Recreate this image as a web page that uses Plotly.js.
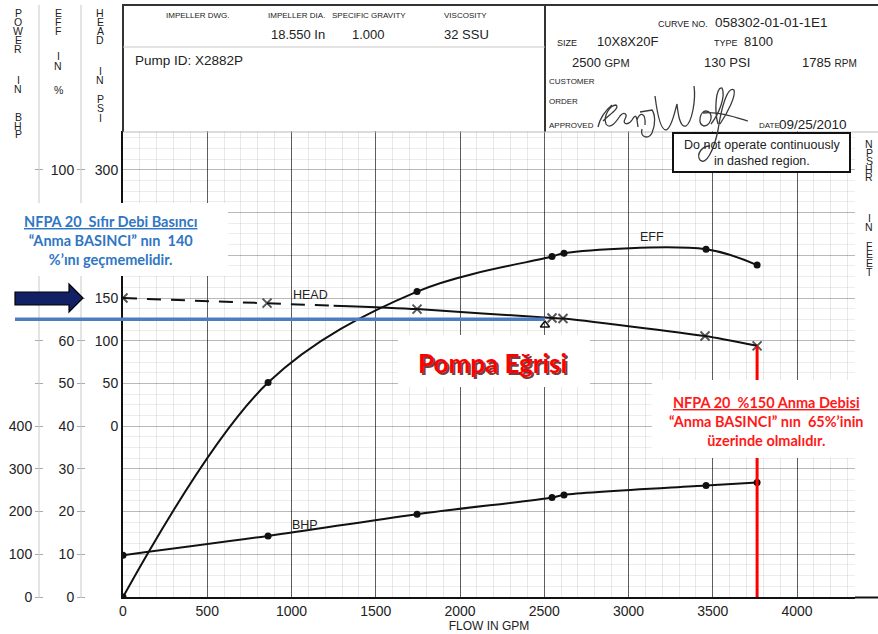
<!DOCTYPE html>
<html>
<head>
<meta charset="utf-8">
<script src="https://cdn.plot.ly/plotly-3.0.1.min.js"></script>
<style>html,body{margin:0;padding:0;background:#fff;}#chart{width:878px;height:634px;}</style>
</head>
<body>
<div id="chart"></div>
<script>
// ---------- data ----------
const headFlowDash = [0, 855, 1250];
const headDash = [150, 144, 141];
const headFlowSolid = [1250, 1745, 2546, 2611, 3454, 3763];
const headSolid = [141, 137, 126.5, 126, 105.5, 94];
const effFlow = [0, 861, 1745, 2546, 2617, 3460, 3763];
const effVals = [0, 50.2, 71.5, 79.7, 80.5, 81.4, 77.7];
const bhpFlow = [0, 861, 1745, 2546, 2617, 3460, 3763];
const bhpVals = [98, 143, 194, 233, 239, 261, 268];
const ratedFlow = [2504];
const ratedHead = [118.5];
const nfpaHead = 125;      // blue reference line (psi)
const maxFlowLine = 3763;  // red 150% flow line (GPM)
const maxFlowHead = 94;

const flowTicks = [0, 500, 1000, 1500, 2000, 2500, 3000, 3500, 4000];
const effTicks = [0, 10, 20, 30, 40, 50, 60, 70, 80, 90, 100];
const effTickText = ['0', '10', '20', '30', '40', '50', '60', '', '', '', '100'];
const headTicks = [0, 50, 100, 150, 200, 250, 300];
const headTickText = ['0', '50', '100', '150', '', '', '300'];
const bhpTicks = [0, 100, 200, 300, 400, 500, 600, 700, 800, 900, 1000];
const bhpTickText = ['0', '100', '200', '300', '400', '', '', '', '', '', ''];

// ---------- helpers (pixel -> paper, margins are zero) ----------
const W = 878, H = 634;
const px = v => v / W;
const py = v => 1 - v / H;
const FONT = 'Liberation Sans, Arial, sans-serif';
const CAL = 'Lato, Carlito, sans-serif';

const shapes = [];
function ln(x0, y0, x1, y1, color, width) {
  shapes.push({type: 'line', xref: 'paper', yref: 'paper', x0: px(x0), y0: py(y0), x1: px(x1), y1: py(y1),
    line: {color: color, width: width}});
}
function rc(x0, y0, x1, y1, fill, lc, lw) {
  shapes.push({type: 'rect', xref: 'paper', yref: 'paper', x0: px(x0), y0: py(y0), x1: px(x1), y1: py(y1),
    fillcolor: fill, line: {color: lc || fill, width: lw || 0}});
}
function pth(d, color, width, fill) {
  const p = d.replace(/(-?[\d.]+),(-?[\d.]+)/g, (m, a, b) => px(+a).toFixed(5) + ',' + py(+b).toFixed(5));
  shapes.push({type: 'path', xref: 'paper', yref: 'paper', path: p,
    line: {color: color, width: width}, fillcolor: fill || 'rgba(0,0,0,0)'});
}

const ann = [];
function T(text, x, y, size, o) {
  o = o || {};
  ann.push({text: text, x: px(x), y: py(y), xref: 'paper', yref: 'paper', showarrow: false,
    xanchor: o.xa || 'center', yanchor: 'middle', align: o.align || 'center',
    font: {size: size, color: o.color || '#222', family: o.family || FONT}});
}
function vword(x, list) { list.forEach(([ch, y]) => T(ch, x, y, 10.5, {color: '#222'})); }

// ---------- left column guide lines ----------
ln(39, 5, 39, 598, '#c9c9c9', 1);
ln(81, 5, 81, 598, '#c9c9c9', 1);

// ---------- header block ----------
pth('M123,132 L123,5 L878,5', '#333', 2);
ln(545, 5, 545, 132, '#333', 2);
ln(123, 47, 545, 47, '#c8c8c8', 1);
ln(123, 132, 878, 132, '#bbbbbb', 1);
ln(855, 597.5, 878, 597.5, '#111', 2);

// ---------- reference lines ----------
shapes.push({type: 'line', xref: 'paper', yref: 'y2', x0: px(15), x1: px(545), y0: nfpaHead, y1: nfpaHead,
  line: {color: '#4a7ebf', width: 3.5}});
shapes.push({type: 'line', xref: 'x', yref: 'y2', x0: maxFlowLine, x1: maxFlowLine, y0: -200, y1: maxFlowHead,
  line: {color: '#ff0000', width: 3}});

// ---------- boxes ----------
rc(673, 133, 850, 172, '#ffffff', '#111', 2);
rc(0, 203, 228, 276, '#ffffff');
rc(398, 335, 590, 387, '#ffffff');
rc(652, 380, 878, 458, '#ffffff');

// arrow
pth('M15,292 L69,292 L69,284 L83,298 L69,312 L69,305 L15,305 Z', '#000', 1.2, '#142064');

// signature
const sig = '#3a3a3a';
pth('M598,127 C600,118 606,110 612,105', sig, 1.3);
pth('M603,121 C610,114 620,108 616,105 C610,105 603,116 606,124 C610,130 616,122 620,116 C624,111 628,114 625,119 C622,124 628,126 632,120 C634,116 636,114 637,120 L638,127 M637,120 C640,112 646,112 645,125', sig, 1.3);
pth('M640,112 L652,110 C655,114 656,124 652,133 C648,140 640,137 642,129', sig, 1.3);
pth('M655,96 C657,112 660,130 666,130 C672,128 675,110 677,104 C678,114 680,128 686,126 C692,122 696,100 694,86', sig, 1.3);
pth('M706,111 C700,111 697,124 704,126 C712,126 714,111 706,111', sig, 1.3);
pth('M711,124 C719,114 726,96 722,88 C716,86 714,110 718,124', sig, 1.3);
pth('M720,124 C728,112 736,96 734,90 C728,86 722,104 718,130 C714,150 706,166 700,160 C696,154 702,146 710,146', sig, 1.3);
pth('M703,113 C718,111 735,117 748,121', sig, 1.3);

// ---------- header text ----------
T('IMPELLER DWG.', 198, 16, 8);
T('IMPELLER DIA.', 296, 16, 8);
T('SPECIFIC GRAVITY', 369, 16, 8);
T('VISCOSITY', 465, 16, 8);
T('18.550 In', 298, 34, 13);
T('1.000', 368, 34, 13);
T('32 SSU', 466, 34, 13);
T('Pump ID: X2882P', 133, 61, 13.5, {xa: 'left'});
T('CURVE NO.', 710, 24, 9, {xa: 'right'});
T('058302-01-01-1E1', 713, 23, 13.5, {xa: 'left'});
T('SIZE', 567, 43, 9);
T('10X8X20F', 627, 41, 13);
T('TYPE', 726, 43, 9);
T('8100', 758, 41, 13);
T('2500 <span style="font-size:11px">GPM</span>', 601, 62, 13);
T('130 PSI', 727, 62, 13);
T('1785 <span style="font-size:10px">RPM</span>', 829, 62, 13);
T('CUSTOMER', 547, 82, 8, {xa: 'left'});
T('ORDER', 547, 101, 8, {xa: 'left'});
T('APPROVED', 547, 125, 8, {xa: 'left'});
T('DATE', 757, 126, 8, {xa: 'left'});
T('09/25/2010', 777, 124, 13.5, {xa: 'left'});
T('Do not operate continuously<br>in dashed region.', 762, 153, 12.5);

// ---------- vertical axis captions ----------
vword(18, [['P', 13], ['O', 22], ['W', 31], ['E', 40], ['R', 49], ['I', 80], ['N', 89], ['B', 117], ['H', 125.5], ['P', 134]]);
vword(58, [['E', 13], ['F', 22], ['F', 31], ['I', 56], ['N', 66], ['%', 90]]);
vword(100, [['H', 13], ['E', 22], ['A', 31], ['D', 40], ['I', 71], ['N', 80], ['P', 99], ['S', 108], ['I', 118]]);
vword(869, [['N', 144], ['P', 152.5], ['S', 161], ['H', 169], ['R', 177], ['I', 218], ['N', 227], ['F', 246], ['E', 254.5], ['E', 263], ['T', 271.5]]);

// ---------- callouts ----------
T('<b><span style="text-decoration:underline">NFPA 20  Sıfır Debi Basıncı</span><br>“Anma BASINCI” nın  140<br>%’ını geçmemelidir.</b>',
  110, 240, 14.5, {color: '#2f76c4', family: CAL});
T('<b><span style="text-decoration:underline">NFPA 20  %150 Anma Debisi</span><br>“Anma BASINCI” nın  65%’inin<br>üzerinde olmalıdır.</b>',
  766, 421, 14.5, {color: '#ff1a1a', family: CAL});
T('<b>Pompa Eğrisi</b>', 494, 365, 26, {color: 'rgba(70,0,0,0.75)', family: CAL});
T('<b>Pompa Eğrisi</b>', 492, 363, 26, {color: '#ff0000', family: CAL});

// ---------- curve labels (data coordinates) ----------
ann.push({text: 'HEAD', x: 1110, y: 154, xref: 'x', yref: 'y2', showarrow: false, font: {size: 12.5, color: '#222', family: FONT}});
ann.push({text: 'EFF', x: 3140, y: 84.3, xref: 'x', yref: 'y', showarrow: false, font: {size: 12.5, color: '#222', family: FONT}});
ann.push({text: 'BHP', x: 1080, y: 169, xref: 'x', yref: 'y3', showarrow: false, font: {size: 12.5, color: '#222', family: FONT}});

// ---------- traces ----------
const black = '#111';
const traces = [
  {x: effFlow, y: effVals, xaxis: 'x', yaxis: 'y', mode: 'lines+markers', line: {color: black, width: 2, shape: 'spline', smoothing: 1},
    marker: {symbol: 'circle', size: 7, color: black}, hoverinfo: 'skip'},
  {x: bhpFlow, y: bhpVals, xaxis: 'x', yaxis: 'y3', mode: 'lines+markers', line: {color: black, width: 2, shape: 'spline', smoothing: 1},
    marker: {symbol: 'circle', size: 7, color: black}, hoverinfo: 'skip'},
  {x: headFlowDash, y: headDash, xaxis: 'x', yaxis: 'y2', mode: 'lines+markers', line: {color: black, width: 2, dash: '14px,10px'},
    marker: {symbol: 'x-thin', size: [9, 9, 0], line: {color: black, width: 2}}, hoverinfo: 'skip'},
  {x: headFlowSolid, y: headSolid, xaxis: 'x', yaxis: 'y2', mode: 'lines+markers', line: {color: black, width: 2, shape: 'spline', smoothing: 0.6},
    marker: {symbol: 'x-thin', size: [0, 9, 9, 9, 9, 9], line: {color: black, width: 2}}, hoverinfo: 'skip'},
  {x: ratedFlow, y: ratedHead, xaxis: 'x', yaxis: 'y2', mode: 'markers',
    marker: {symbol: 'triangle-up-open', size: 8, color: black, line: {width: 1.5, color: black}}, hoverinfo: 'skip'}
];

const XR = [0, 4344];
const YR = [0, 109.1];
const dom = [1 - 597 / H, 1 - 131 / H];
const layout = {
  width: W, height: H, margin: {l: 0, r: 0, t: 0, b: 0}, paper_bgcolor: '#fff', plot_bgcolor: '#fff',
  showlegend: false, font: {family: FONT, color: '#222'}, hovermode: false,
  xaxis: {domain: [px(123), px(855)], range: XR, anchor: 'y', tickvals: flowTicks, ticks: '', ticklen: 0,
    showgrid: true, gridcolor: 'rgba(0,0,0,0.6)', gridwidth: 1,
    minor: {dtick: 100, showgrid: true, gridcolor: 'rgba(0,0,0,0.09)', ticks: ''},
    showline: true, linecolor: '#111', linewidth: 2, zeroline: false, tickfont: {size: 14, color: '#222'},
    title: {text: 'FLOW IN GPM', font: {size: 12, color: '#222'}, standoff: 2}},
  xaxis2: {overlaying: 'x', anchor: 'y', range: XR, tick0: 250, dtick: 500, showgrid: true, gridcolor: 'rgba(0,0,0,0.25)',
    showticklabels: false, ticks: '', zeroline: false, showline: false},
  yaxis: {domain: dom, range: YR, anchor: 'free', position: px(85), side: 'left', tickvals: effTicks, ticktext: effTickText,
    ticks: 'outside', ticklen: 8, tickcolor: '#aaa', showgrid: true, gridcolor: 'rgba(0,0,0,0.22)',
    minor: {dtick: 2.5, showgrid: true, gridcolor: 'rgba(0,0,0,0.07)', ticks: ''},
    zeroline: false, showline: false, tickfont: {size: 14, color: '#222'}},
  yaxis2: {overlaying: 'y', anchor: 'x', side: 'left', range: [-200, 345.5], tickvals: headTicks, ticktext: headTickText, ticks: '',
    showgrid: false, showline: true, linecolor: '#111', linewidth: 2, zeroline: false, tickfont: {size: 14, color: '#222'}},
  yaxis3: {overlaying: 'y', anchor: 'free', position: px(43), side: 'left', range: [0, 1091], tickvals: bhpTicks,
    ticktext: bhpTickText, ticks: 'outside', ticklen: 8, tickcolor: '#aaa', showgrid: false, zeroline: false, showline: false,
    tickfont: {size: 14, color: '#222'}},
  yaxis4: {overlaying: 'y', anchor: 'x', range: YR, tick0: 0, dtick: 20, showgrid: true, gridcolor: 'rgba(0,0,0,0.55)',
    showticklabels: false, ticks: '', zeroline: false, showline: false},
  shapes: shapes,
  annotations: ann
};

Plotly.newPlot('chart', traces, layout, {displayModeBar: false, staticPlot: true});
</script>
</body>
</html>
